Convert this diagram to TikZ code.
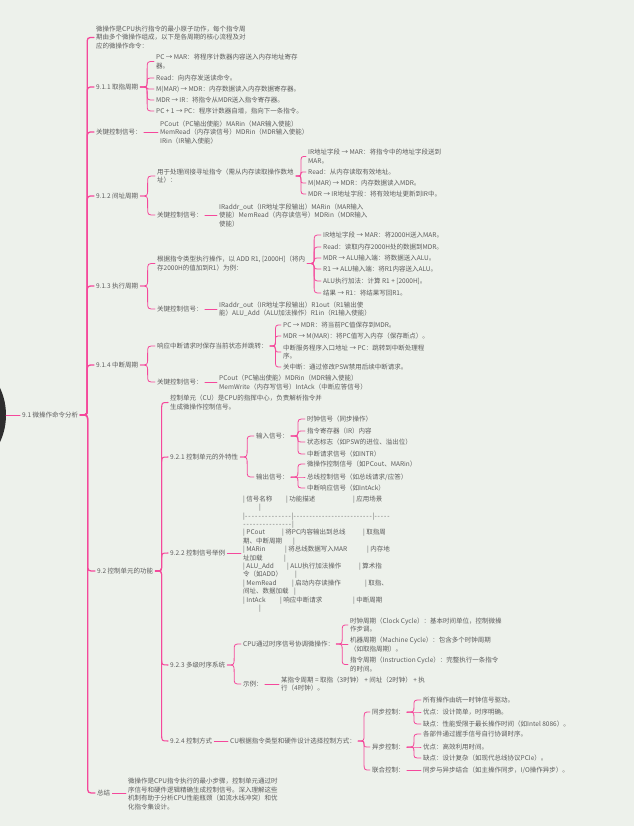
\documentclass[tikz,border=0pt]{standalone}
\usepackage{fontspec}
\setmainfont{Noto Sans CJK SC}
\usetikzlibrary{calc}
\definecolor{bgc}{HTML}{EDF1EB}
\definecolor{pinkc}{HTML}{F5489B}
\definecolor{txtc}{HTML}{5C5C5C}
\definecolor{rootc}{HTML}{2E2E2E}
\tikzset{
 txt/.style={anchor=west, inner xsep=2pt, inner ysep=1pt, text=txtc, font=\fontsize{6.5}{8.4}\selectfont, align=left},
 link/.style={draw=pinkc, line width=0.8pt, line cap=round},
 trunk/.style={line width=1.3pt},
 midl/.style={line width=1.05pt},
}
\newcommand\brc[3][]{\draw[link,#1] let \p1=(#2.east), \p2=(#3.west), \n1={\x1+0.5*(\x2-\x1)}, \n2={min(7pt,abs(\y2-\y1)/2)*((\y2>\y1)-(\y2<\y1))} in (\p1) .. controls (\n1,\y1) .. (\n1,\y1+\n2) -- (\n1,\y2-\n2) .. controls (\n1,\y2) .. (\p2);}
\newcommand\stc[3][]{\draw[link,#1] (#2.east) -- (#2.east -| #3.west);}
\newcommand\mmline[1]{\makebox[150pt][l]{#1}}
\newcommand\mmcell[2]{\rlap{\hspace*{#1pt}#2}}
\newcommand\mmdash[1]{\hbox to #1pt{\xleaders\hbox{-\kern0.9pt}\hfill}}
\begin{document}
\begin{tikzpicture}[x=1pt,y=-1pt]
\useasboundingbox (0,0) rectangle (634,826);
\clip (0,0) rectangle (634,826);
\fill[bgc] (0,0) rectangle (634,826);
\node[circle, fill=rootc, minimum size=128pt, inner sep=0pt] (root) at (-58,415) {};
\node[txt] (n91) at (20,415) {9.1 微操作命令分析};
\draw[link, line width=1pt] (root.east) -- (n91.west);
% level 2
\node[txt] (i0) at (94,37.5) {微操作是CPU执行指令的最小原子动作，每个指令周\\期由多个微操作组成，以下是各周期的核心流程及对\\应的微操作命令：};
\node[txt] (a1) at (94,87) {9.1.1 取指周期};
\node[txt] (a1k) at (94,132) {关键控制信号：};
\node[txt] (a2) at (94,196) {9.1.2 间址周期};
\node[txt] (a3) at (94,286) {9.1.3 执行周期};
\node[txt] (a4) at (94,365) {9.1.4 中断周期};
\node[txt] (b) at (95,571) {9.2 控制单元的功能};
\node[txt] (z) at (95,793) {总结};
\foreach \c in {i0,a1,a1k,a2,a3,a4,b,z} {\brc[trunk]{n91}{\c}}
% 9.1.1
\node[txt] (a1c1) at (154,61.5) {PC → MAR：将程序计数器内容送入内存地址寄存\\器。};
\node[txt] (a1c2) at (154,78) {Read：向内存发送读命令。};
\node[txt] (a1c3) at (154,89) {M(MAR) → MDR：内存数据读入内存数据寄存器。};
\node[txt] (a1c4) at (154,100) {MDR → IR：将指令从MDR送入指令寄存器。};
\node[txt] (a1c5) at (154,111) {PC + 1 → PC：程序计数器自增，指向下一条指令。};
\foreach \c in {a1c1,a1c2,a1c3,a1c4,a1c5} {\brc{a1}{\c}}
\node[txt] (a1kc) at (158,132.5) {PCout（PC输出使能）MARin（MAR输入使能）\\MemRead（内存读信号）MDRin（MDR输入使能）\\IRin（IR输入使能）};
\stc{a1k}{a1kc}
% 9.1.2
\node[txt] (a2c1) at (155,176) {用于处理间接寻址指令（需从内存读取操作数地\\址）：};
\node[txt] (a2k) at (155,215) {关键控制信号：};
\brc{a2}{a2c1}\brc{a2}{a2k}
\node[txt] (a2d1) at (306,156.5) {IR地址字段 → MAR：将指令中的地址字段送到\\MAR。};
\node[txt] (a2d2) at (306,172) {Read：从内存读取有效地址。};
\node[txt] (a2d3) at (306,183) {M(MAR) → MDR：内存数据读入MDR。};
\node[txt] (a2d4) at (306,194) {MDR → IR地址字段：将有效地址更新到IR中。};
\foreach \c in {a2d1,a2d2,a2d3,a2d4} {\brc{a2c1}{\c}}
\node[txt] (a2kc) at (217,215.5) {IRaddr\_out（IR地址字段输出）MARin（MAR输入\\使能）MemRead（内存读信号）MDRin（MDR输入\\使能）};
\stc{a2k}{a2kc}
% 9.1.3
\node[txt] (a3c1) at (155,263.5) {根据指令类型执行操作，以 ADD R1, [2000H]（将内\\存2000H的值加到R1）为例：};
\node[txt] (a3k) at (155,309) {关键控制信号：};
\brc{a3}{a3c1}\brc{a3}{a3k}
\node[txt] (a3d1) at (321,235) {IR地址字段 → MAR：将2000H送入MAR。};
\node[txt] (a3d2) at (321,247) {Read：读取内存2000H处的数据到MDR。};
\node[txt] (a3d3) at (321,258) {MDR → ALU输入端：将数据送入ALU。};
\node[txt] (a3d4) at (321,269) {R1 → ALU输入端：将R1内容送入ALU。};
\node[txt] (a3d5) at (321,281) {ALU执行加法：计算 R1 + [2000H]。};
\node[txt] (a3d6) at (321,293) {结果 → R1：将结果写回R1。};
\foreach \c in {a3d1,a3d2,a3d3,a3d4,a3d5,a3d6} {\brc{a3c1}{\c}}
\node[txt] (a3kc) at (217,309) {IRaddr\_out（IR地址字段输出）R1out（R1输出使\\能）ALU\_Add（ALU加法操作）R1in（R1输入使能）};
\stc{a3k}{a3kc}
% 9.1.4
\node[txt] (a4c1) at (155,346) {响应中断请求时保存当前状态并跳转：};
\node[txt] (a4k) at (155,382) {关键控制信号：};
\brc{a4}{a4c1}\brc{a4}{a4k}
\node[txt] (a4d1) at (281,325) {PC → MDR：将当前PC值保存到MDR。};
\node[txt] (a4d2) at (281,336) {MDR → M(MAR)：将PC值写入内存（保存断点）。};
\node[txt] (a4d3) at (281,352) {中断服务程序入口地址 → PC：跳转到中断处理程\\序。};
\node[txt] (a4d4) at (281,367) {关中断：通过修改PSW禁用后续中断请求。};
\foreach \c in {a4d1,a4d2,a4d3,a4d4} {\brc{a4c1}{\c}}
\node[txt] (a4kc) at (217,382.5) {PCout（PC输出使能）MDRin（MDR输入使能）\\MemWrite（内存写信号）IntAck（中断应答信号）};
\stc{a4k}{a4kc}
% 9.2
\node[txt] (b0) at (168,402.5) {控制单元（CU）是CPU的指挥中心，负责解析指令并\\生成微操作控制信号。};
\node[txt] (b1) at (168,457) {9.2.1 控制单元的外特性};
\node[txt] (b2) at (168,553) {9.2.2 控制信号举例};
\node[txt] (b3) at (168,665) {9.2.3 多级时序系统};
\node[txt] (b4) at (168,741) {9.2.4 控制方式};
\foreach \c in {b0,b1,b2,b3,b4} {\brc[midl]{b}{\c}}
% 9.2.1
\node[txt] (b1i) at (254,436) {输入信号：};
\node[txt] (b1o) at (254,477) {输出信号：};
\brc{b1}{b1i}\brc{b1}{b1o}
\node[txt] (b1i1) at (305,419) {时钟信号（同步操作）};
\node[txt] (b1i2) at (305,431) {指令寄存器（IR）内容};
\node[txt] (b1i3) at (305,442) {状态标志（如PSW的进位、溢出位）};
\node[txt] (b1i4) at (305,454) {中断请求信号（如INTR）};
\foreach \c in {b1i1,b1i2,b1i3,b1i4} {\brc{b1i}{\c}}
\node[txt] (b1o1) at (305,464) {微操作控制信号（如PCout、MARin）};
\node[txt] (b1o2) at (305,477) {总线控制信号（如总线请求/应答）};
\node[txt] (b1o3) at (305,488) {中断响应信号（如IntAck）};
\foreach \c in {b1o1,b1o2,b1o3} {\brc{b1o}{\c}}
% 9.2.2
\node[txt] (tbl) at (241,554) {%
\mmline{\mmcell{0}{| 信号名称}\mmcell{43}{| 功能描述}\mmcell{110}{| 应用场景}}\\
\mmline{\mmcell{16}{|}}\\
\mmline{|\mmdash{47}|\mmdash{79}|\mmdash{16}}\\
\mmline{\mmdash{49}|}\\
\mmline{\mmcell{0}{| PCout}\mmcell{39}{| 将PC内容输出到总线}\mmcell{120}{| 取指周}}\\
\mmline{\mmcell{0}{期、中断周期}\mmcell{50}{|}}\\
\mmline{\mmcell{0}{| MARin}\mmcell{42}{| 将总线数据写入MAR}\mmcell{124}{| 内存地}}\\
\mmline{\mmcell{0}{址加载}\mmcell{41}{|}}\\
\mmline{\mmcell{0}{| ALU\_Add}\mmcell{44}{| ALU执行加法操作}\mmcell{116}{| 算术指}}\\
\mmline{\mmcell{0}{令（如ADD）}\mmcell{52}{|}}\\
\mmline{\mmcell{0}{| MemRead}\mmcell{49}{| 启动内存读操作}\mmcell{122}{| 取指、}}\\
\mmline{\mmcell{0}{间址、数据加载}\mmcell{51}{|}}\\
\mmline{\mmcell{0}{| IntAck}\mmcell{37}{| 响应中断请求}\mmcell{110}{| 中断周期}}\\
\mmline{\mmcell{16}{|}}};
\stc{b2}{tbl}
% 9.2.3
\node[txt] (b3c) at (241,644) {CPU通过时序信号协调微操作：};
\node[txt] (b3e) at (241,684) {示例：};
\brc{b3}{b3c}\brc{b3}{b3e}
\node[txt] (b3c1) at (348,625) {时钟周期（Clock Cycle）：基本时间单位，控制微操\\作步调。};
\node[txt] (b3c2) at (348,644.5) {机器周期（Machine Cycle）：包含多个时钟周期\\（如取指周期）。};
\node[txt] (b3c3) at (348,664.5) {指令周期（Instruction Cycle）：完整执行一条指令\\的时间。};
\foreach \c in {b3c1,b3c2,b3c3} {\brc{b3c}{\c}}
\node[txt] (b3ec) at (279,684) {某指令周期 = 取指（3时钟） + 间址（2时钟） + 执\\行（4时钟）。};
\stc{b3e}{b3ec}
% 9.2.4
\node[txt] (b4c) at (228,741) {CU根据指令类型和硬件设计选择控制方式：};
\stc{b4}{b4c}
\node[txt] (s1) at (370,712) {同步控制：};
\node[txt] (s2) at (370,747) {异步控制：};
\node[txt] (s3) at (370,770) {联合控制：};
\foreach \c in {s1,s2,s3} {\brc{b4c}{\c}}
\node[txt] (s11) at (421,700) {所有操作由统一时钟信号驱动。};
\node[txt] (s12) at (421,712) {优点：设计简单，时序明确。};
\node[txt] (s13) at (421,724) {缺点：性能受限于最长操作时间（如Intel 8086）。};
\foreach \c in {s11,s12,s13} {\brc{s1}{\c}}
\node[txt] (s21) at (421,734) {各部件通过握手信号自行协调时序。};
\node[txt] (s22) at (421,747) {优点：高效利用时间。};
\node[txt] (s23) at (421,758) {缺点：设计复杂（如现代总线协议PCIe）。};
\foreach \c in {s21,s22,s23} {\brc{s2}{\c}}
\node[txt] (s31) at (421,770) {同步与异步结合（如主操作同步，I/O操作异步）。};
\stc{s3}{s31}
% summary
\node[txt] (zc) at (126,794) {微操作是CPU指令执行的最小步骤，控制单元通过时\\序信号和硬件逻辑精确生成控制信号。深入理解这些\\机制有助于分析CPU性能瓶颈（如流水线冲突）和优\\化指令集设计。};
\stc{z}{zc}
\end{tikzpicture}
\end{document}
